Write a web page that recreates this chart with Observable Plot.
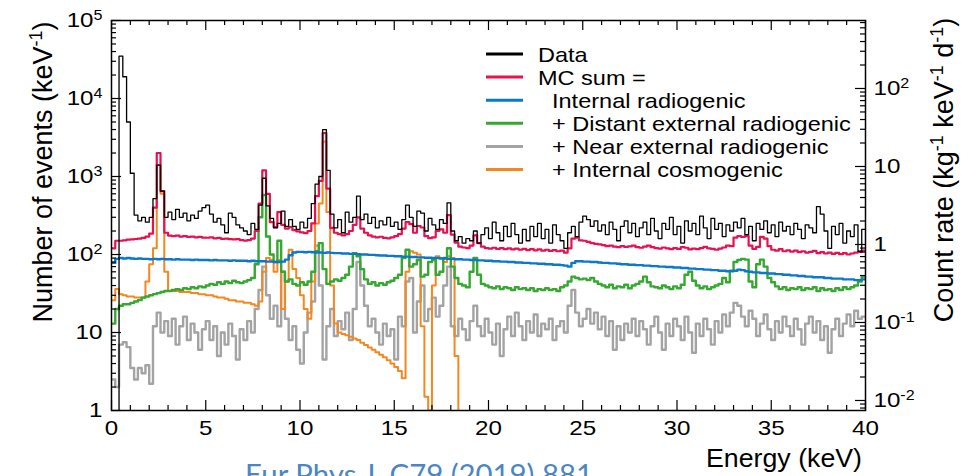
<!DOCTYPE html>
<html><head><meta charset="utf-8">
<script src="https://cdn.jsdelivr.net/npm/d3@7"></script>
<script src="https://cdn.jsdelivr.net/npm/@observablehq/plot@0.6"></script>
<style>
html,body{margin:0;padding:0;background:#fff;}
#wrap{width:980px;height:476px;overflow:hidden;position:relative;}
</style></head><body><div id="wrap"></div>
<script>
// ---------------- data (0.2 keV bins from 0 to 40 keV) ----------------
const binWidth = 0.2;
const energyMax = 40;
const rateFactor = 134.4; // left axis (events/keV) per right axis unit (kg^-1 keV^-1 d^-1)

const seriesNames = ["Data", "MC sum =", "Internal radiogenic", "+ Distant external radiogenic", "+ Near external radiogenic", "+ Internal cosmogenic"];
const seriesColors = ["#000000", "#e8104f", "#0a78cc", "#36a832", "#a3a3a3", "#f5871f"];

const dataCounts = [
  0,0,35000,19000,5000, 1100,320,270,300,260, 300,520,1400,650,300, 350,280,380,300,340,
  270,320,290,360,400, 430,330,260,290,240, 190,340,300,240,220, 200,180,250,210,430,
  950,420,290,220,250, 360,230,280,230,210, 260,220,290,450,800, 1000,4000,1200,330,220,
  280,190,350,260,300, 560,280,330,250,300, 220,270,240,300,230, 260,210,280,430,300,
  230,360,340,200,290, 240,210,280,250,460, 200,150,170,140,160, 150,200,140,180,220,
  160,260,190,150,230, 170,250,180,140,210, 150,230,170,250,160, 210,140,240,180,150,
  120,190,230,170,260, 310,280,230,270,200, 240,180,260,210,150, 230,270,190,250,170,
  220,260,180,290,200, 160,250,210,300,180, 230,140,270,200,250, 180,310,220,160,290,
  210,250,170,240,200, 260,220,290,180,230, 150,250,210,270,190, 240,170,260,200,230,
  180,250,210,160,240, 220,190,410,330,200, 120,230,180,250,140, 200,170,240,110,210
];
const mcSum = [
  120,150,150,152,155, 156,158,160,163,170, 185,400,2000,650,190, 175,172,175,170,172,
  168,170,166,168,165, 164,166,161,163,159, 160,157,156,157,153, 151,153,160,200,450,
  1200,600,260,225,350, 240,215,225,205,198, 192,188,200,250,560, 880,3600,700,220,190,
  182,176,182,200,240, 300,215,190,176,170, 166,169,163,161,166, 172,182,215,260,245,
  190,232,222,172,162, 166,200,210,190,320, 180,142,126,123,121, 130,176,140,126,121,
  119,122,118,121,117, 120,116,119,115,118, 114,117,113,116,112, 115,111,114,110,112,
  106,120,160,165,152, 150,145,140,137,135, 132,128,130,126,124, 128,125,127,130,124,
  122,126,130,124,121, 119,123,120,117,121, 118,124,122,116,119, 117,121,125,120,118,
  115,119,123,130,128, 165,172,168,172,130, 118,125,168,160,128, 115,112,117,110,113,
  109,112,107,110,106, 108,111,104,107,103, 106,102,105,101,104, 100,103,106,108,112
];
const internalRadiogenic = [
  78,88,90,89,90, 89,88,89,88,88, 87,88,87,88,87, 87,86,87,86,86,
  86,85,86,85,85, 85,84,85,84,84, 84,83,84,83,83, 83,82,83,82,82,
  82,81,81,80,80, 81,86,98,106,108, 108,107,108,107,106, 106,105,106,105,104,
  104,103,103,102,102, 101,100,100,99,99, 98,97,97,96,96, 95,95,94,94,93,
  93,92,92,91,91, 90,90,89,89,88, 88,87,87,86,86, 85,85,84,84,83,
  83,82,82,81,81, 80,80,79,79,78, 78,77,77,76,76, 75,75,74,74,73,
  72,70,78,82,82, 81,81,80,80,79, 78,78,77,77,76, 75,75,74,74,73,
  73,72,72,71,71, 70,70,69,69,68, 68,67,67,66,66, 65,65,64,64,63,
  63,62,62,61,61, 62,64,63,61,60, 59,59,58,58,57, 57,56,56,55,55,
  54,54,53,53,52, 52,51,51,51,50, 50,49,49,49,48, 48,48,47,47,48
];
const distantExternal = [
  13,20,22,23,23, 24,25,26,28,29, 30,31,32,33,34, 34,35,36,35,37,
  36,38,37,39,38, 40,42,41,44,42, 45,43,46,44,43, 45,47,50,75,300,
  580,170,100,80,150, 60,45,48,42,40, 44,41,45,60,110, 140,65,42,45,48,
  46,50,55,70,104, 95,65,48,42,44, 40,43,41,44,46, 50,55,90,115,70,
  75,85,52,55,80, 85,55,60,90,120, 70,50,42,40,38, 60,90,55,42,40,
  38,37,39,36,38, 37,35,38,36,37, 35,37,34,36,35, 37,35,36,34,38,
  40,45,52,50,48, 49,47,50,45,42, 40,38,41,37,39, 38,41,37,40,42,
  45,52,44,39,38, 37,40,38,36,39, 37,41,55,60,46, 40,37,39,36,38,
  40,42,50,44,62, 80,85,88,86,45, 38,75,86,70,50, 44,39,36,38,35,
  37,36,38,35,37, 36,38,34,37,35, 36,34,37,35,38, 36,38,40,45,52
];
const nearExternal = [
  2.5,2.0,7,7.5,6.5, 3.5,2.5,3.5,3.0,3.8, 2.2,12,18,10,14, 9,15,7,12,16,
  8,13,10,6,11, 14,8,12,5,10, 7,13,9,4.5,11, 8,14,10,20,35,
  70,30,15,22,12, 60,15,8,12,6, 4,10,18,25,130, 40,4.5,12,20,9,
  14,11,18,8,20, 80,40,22,12,15, 10,7,13,9,11, 4.5,16,12,45,50,
  10,25,40,14,20, 28,16,22,40,70, 12,9,15,11,8, 14,22,12,9,15,
  10,7,13,5,11, 16,9,18,12,8, 14,10,17,9,13, 11,15,8,12,14,
  10,22,35,18,12, 15,20,13,18,11, 16,9,14,6,12, 8,13,10,15,9,
  14,11,7,12,16, 10,6,13,9,15, 12,8,16,10,5.5, 13,9,15,11,7,
  14,10,17,12,18, 24,22,16,12,19, 15,9,13,17,11, 8,14,10,16,12,
  9,15,11,7,13, 16,10,14,8,12, 5.5,11,15,9,13, 17,12,19,15,16
];
const internalCosmogenic = [
  26,36,31,30,29, 29,28,28,28,45, 75,120,1400,600,60, 34,34,34,33,33,
  33,32,32,31,31, 30,30,29,28,28, 27,26,26,25,25, 24,24,23,22,25,
  60,90,85,60,85, 20,45,115,65,50, 30,20,15,45,250, 450,2800,350,40,13,
  10,9.6,9.2,8.8,8.4, 8.0,7.4,6.9,6.4,6.0, 5.6,5.2,4.8,4.4,4.0, 3.6,3.2,2.6,60,110,
  105,100,12,1.5,1.0, 40,95,90,80,95, 90,5,0,0,0, 0,0,0,0,0,
  0,0,0,0,0, 0,0,0,0,0, 0,0,0,0,0, 0,0,0,0,0,
  0,0,0,0,0, 0,0,0,0,0, 0,0,0,0,0, 0,0,0,0,0,
  0,0,0,0,0, 0,0,0,0,0, 0,0,0,0,0, 0,0,0,0,0,
  0,0,0,0,0, 0,0,0,0,0, 0,0,0,0,0, 0,0,0,0,0,
  0,0,0,0,0, 0,0,0,0,0, 0,0,0,0,0, 0,0,0,0,0
];
const seriesValues = [dataCounts, mcSum, internalRadiogenic, distantExternal, nearExternal, internalCosmogenic];
const seriesWidths = [1.3, 2.2, 2.4, 2.4, 2.4, 2.0];

// axis ticks
const xMajor = [0,5,10,15,20,25,30,35,40];
const xMinor = d3.range(1, 40).filter(v => v % 5 !== 0);
const yMajor = [1,10,100,1e3,1e4,1e5];
const yMinor = [];
for (const dec of [1,10,100,1e3,1e4]) for (let m = 2; m <= 9; m++) yMinor.push(m*dec);
const rightMajorRates = [0.01,0.1,1,10,100];
const rightMinorRates = [];
for (const dec of [0.001,0.01,0.1,1,10,100]) for (let m = 2; m <= 9; m++) rightMinorRates.push(m*dec);

// ---------------- chart ----------------
const W = 980, H = 476, mL = 111, mR = 115, mT = 20, mB = 66;
const PW = W - mL - mR, PH = H - mT - mB;
const FONT = "'Liberation Sans', Arial, Helvetica, sans-serif";

function histRows(vals) {
  const r = vals.map((v, i) => ({x: i * binWidth, y: v}));
  r.push({x: energyMax, y: vals[vals.length - 1]});
  return r;
}
function powLabel(v) {
  const e = Math.round(Math.log10(v));
  if (e === 0) return "1";
  if (e === 1) return "10";
  return "10^" + e;
}
const rightMajor = rightMajorRates.map(r => r * rateFactor);
const rightMinor = rightMinorRates.map(r => r * rateFactor).filter(v => v >= 1 && v <= 1e5);

const drawOrder = [4, 5, 3, 2, 1, 0];
const lineMarks = drawOrder.map(i => Plot.line(histRows(seriesValues[i]), {
  x: "x", y: d => Math.max(d.y, 0.3), curve: "step-after",
  stroke: seriesColors[i], strokeWidth: seriesWidths[i], clip: true
}));

const chart = Plot.plot({
  width: W, height: H, marginLeft: mL, marginRight: mR, marginTop: mT, marginBottom: mB,
  style: {fontFamily: FONT, fontSize: "21px", background: "white", color: "black", overflow: "visible"},
  x: {domain: [0, energyMax]},
  y: {type: "log", domain: [1, 1e5]},
  marks: [
    ...lineMarks,
    Plot.tickY(yMajor, {y: d => d, insetRight: PW - 10, stroke: "black", strokeWidth: 1.2}),
    Plot.tickY(yMinor, {y: d => d, insetRight: PW - 5, stroke: "black", strokeWidth: 1.2}),
    Plot.tickY(rightMajor, {y: d => d, insetLeft: PW - 10, stroke: "black", strokeWidth: 1.2}),
    Plot.tickY(rightMinor, {y: d => d, insetLeft: PW - 5, stroke: "black", strokeWidth: 1.2}),
    Plot.tickX(xMajor, {x: d => d, insetTop: PH - 10, stroke: "black", strokeWidth: 1.2}),
    Plot.tickX(xMinor, {x: d => d, insetTop: PH - 5, stroke: "black", strokeWidth: 1.2}),
    Plot.tickX(xMajor, {x: d => d, insetBottom: PH - 10, stroke: "black", strokeWidth: 1.2}),
    Plot.tickX(xMinor, {x: d => d, insetBottom: PH - 5, stroke: "black", strokeWidth: 1.2}),
    Plot.frame({stroke: "black", strokeWidth: 1.5}),
    Plot.axisY(yMajor, {anchor: "left", tickSize: 0, tickPadding: 9, label: null, tickFormat: powLabel}),
    Plot.axisY(rightMajor, {anchor: "right", tickSize: 0, tickPadding: 8, label: null, tickFormat: d => powLabel(d / rateFactor)}),
    Plot.axisX(xMajor, {anchor: "bottom", tickSize: 0, tickPadding: 10, label: null})
  ]
});
document.getElementById("wrap").append(chart);

const svg = d3.select(chart);
function stretch(node, k) {
  const w = node.getComputedTextLength();
  node.setAttribute("textLength", (w * k).toFixed(1));
  node.setAttribute("lengthAdjust", "spacingAndGlyphs");
}
// superscripts on tick labels
svg.selectAll('g[aria-label$="tick label"] text').each(function() {
  const s = this.textContent;
  if (s.includes("^")) {
    const [b, e] = s.split("^");
    this.textContent = b;
    d3.select(this).append("tspan").attr("dy", "-7px").attr("font-size", "14px").text(e);
  }
  stretch(this, 1.15);
});

// rotated axis titles with superscripts
function supTitle(x, y, parts, size) {
  const t = svg.append("text")
    .attr("transform", `translate(${x},${y}) rotate(-90)`)
    .attr("text-anchor", "middle").attr("font-family", FONT).attr("font-size", size).attr("fill", "black");
  let raised = false;
  for (const [txt, sup] of parts) {
    const sp = t.append("tspan").text(txt);
    if (sup && !raised) { sp.attr("dy", -0.36 * size).attr("font-size", Math.round(size * 0.66)); raised = true; }
    else if (sup) { sp.attr("font-size", Math.round(size * 0.66)); }
    else if (!sup && raised) { sp.attr("dy", 0.36 * size); raised = false; }
  }
  return t;
}
supTitle(52, 172, [["Number of events (keV", false], ["-1", true], [")", false]], 27);
supTitle(953, 170, [["Count rate (kg", false], ["-1", true], [" keV", false], ["-1", true], [" d", false], ["-1", true], [")", false]], 27);

// x title
svg.append("text").attr("x", 862).attr("y", 467).attr("text-anchor", "end")
  .attr("font-family", FONT).attr("font-size", 25).attr("fill", "black")
  .attr("textLength", 156).attr("lengthAdjust", "spacingAndGlyphs").text("Energy (keV)");

// legend
const lg = svg.append("g").attr("font-family", FONT).attr("font-size", 21).attr("text-anchor", "start");
seriesNames.forEach((name, i) => {
  const y = 54 + i * 23.1;
  lg.append("line").attr("x1", 486).attr("x2", 523).attr("y1", y).attr("y2", y)
    .attr("stroke", seriesColors[i]).attr("stroke-width", 3);
  const t = lg.append("text").attr("x", i < 2 ? 538 : 552).attr("y", y).attr("dy", "0.36em")
    .attr("text-anchor", "start").attr("fill", "black").text(name);
  stretch(t.node(), 1.12);
});

// caption (partly cut off at bottom, as in the source)
svg.append("text").attr("x", 245).attr("y", 485).attr("text-anchor", "start")
  .attr("font-family", "Lato, 'Open Sans', sans-serif").attr("font-size", 28).attr("fill", "#4a86c5")
  .attr("textLength", 348).attr("lengthAdjust", "spacingAndGlyphs").text("Eur Phys J. C79 (2019) 881");
</script>
</body></html>
